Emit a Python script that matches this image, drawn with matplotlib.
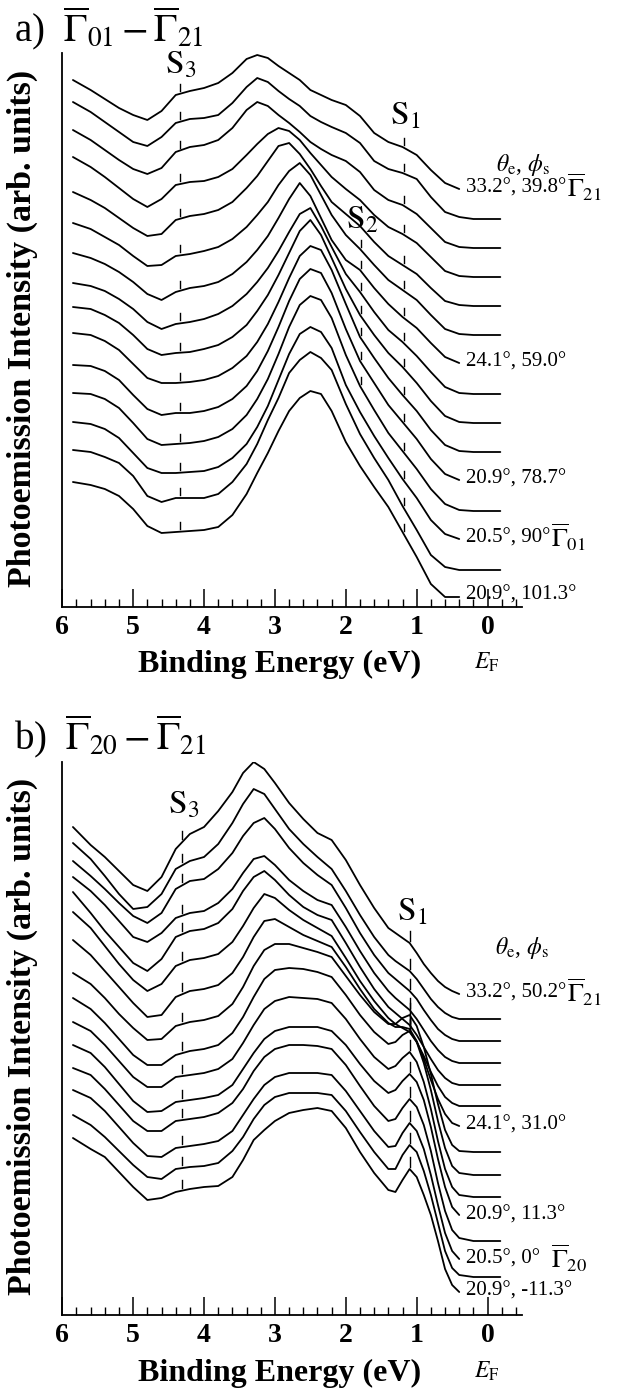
import numpy as np
import matplotlib
matplotlib.use("Agg")
import matplotlib.pyplot as plt

plt.rcParams['font.family'] = ['Liberation Serif', 'DejaVu Serif']
plt.rcParams['mathtext.fontset'] = 'stix'

nan = np.nan

# ---------------- panel a) data (binding energy grid, eV) ----------------
energy_a = [5.85, 5.6, 5.4, 5.2, 5.0, 4.8, 4.6, 4.4, 4.2, 4.0, 3.8, 3.6, 3.4, 3.25,
            3.1, 2.95, 2.8, 2.65, 2.5, 2.35, 2.2, 2.0, 1.8, 1.6, 1.4, 1.2, 1.0,
            0.8, 0.6, 0.4, 0.2, 0.0, -0.18]
offsets_a = [417, 388, 359, 330, 301, 272, 243, 213, 184, 155, 126, 96, 67, 37, 10]

a01 = [110, 100, 91, 82, 75, 70, 79, 95, 99, 102, 107, 117, 131, 135, 132, 124, 117, 110, 100, 95, 90, 85, 74, 57, 48, 43, 35, 20, 7, 1, nan, nan, nan]
a02 = [117, 107, 97, 87, 77, 73, 82, 96, 100, 101, 104, 116, 132, 141, 137, 128, 120, 113, 103, 97, 92, 86, 76, 58, 50, 46, 40, 22, 7, 2, 0, 0, 0]
a03 = [118, 108, 98, 88, 79, 74, 80, 96, 101, 103, 108, 120, 138, 146, 142, 133, 125, 116, 106, 99, 93, 87, 76, 58, 48, 43, 34, 20, 6, 1, 0, 0, 0]
a04 = [120, 110, 100, 89, 78, 70, 78, 92, 95, 96, 100, 108, 122, 133, 143, 149, 146, 137, 124, 112, 100, 88, 77, 62, 50, 43, 34, 20, 6, 1, 0, 0, 0]
a05 = [114, 106, 98, 88, 78, 70, 72, 86, 90, 92, 96, 104, 118, 130, 145, 160, 163, 152, 137, 120, 104, 92, 80, 64, 50, 41, 32, 18, 5, 1, 0, 0, 0]
a06 = [112, 106, 98, 90, 79, 69, 70, 79, 81, 84, 88, 96, 108, 120, 133, 150, 164, 172, 160, 140, 120, 100, 86, 70, 55, 45, 35, 20, 6, 1, 0, 0, 0]
a07 = [111, 106, 100, 92, 82, 70, 64, 72, 76, 78, 82, 90, 102, 114, 128, 146, 165, 181, 168, 146, 124, 104, 94, 76, 60, 47, 36, 21, 7, 1, nan, nan, nan]
a08 = [111, 108, 103, 95, 85, 72, 65, 70, 72, 75, 80, 88, 100, 112, 126, 143, 162, 180, 186, 168, 147, 120, 102, 82, 64, 52, 38, 22, 7, 1, 0, 0, 0]
a09 = [116, 114, 108, 100, 88, 74, 68, 70, 71, 74, 78, 86, 98, 112, 128, 148, 170, 192, 203, 188, 165, 134, 108, 88, 70, 56, 40, 22, 7, 1, 0, 0, 0]
a10 = [119, 117, 111, 102, 88, 74, 69, 69, 70, 72, 76, 84, 96, 110, 128, 150, 174, 196, 206, 202, 182, 148, 115, 94, 74, 57, 41, 22, 7, 1, 0, 0, 0]
a11 = [116, 115, 110, 101, 86, 72, 66, 68, 68, 70, 74, 82, 95, 110, 130, 154, 180, 202, 212, 208, 188, 152, 120, 98, 76, 59, 42, 22, 7, 1, nan, nan, nan]
a12 = [118, 117, 112, 103, 88, 72, 66, 67, 68, 70, 74, 82, 96, 112, 132, 157, 184, 206, 215, 211, 193, 156, 125, 101, 78, 60, 42, 22, 7, 1, 0, 0, 0]
a13 = [118, 116, 111, 102, 87, 72, 67, 67, 68, 69, 73, 82, 96, 113, 134, 160, 186, 206, 213, 208, 192, 155, 128, 104, 82, 61, 42, 20, 6, 1, nan, nan, nan]
a14 = [120, 118, 113, 107, 94, 74, 68, 72, 72, 72, 76, 88, 106, 126, 150, 172, 197, 210, 218, 212, 200, 166, 136, 112, 90, 64, 40, 15, 3, 0, 0, 0, 0]
a15 = [115, 112, 108, 101, 88, 71, 64, 65, 66, 67, 70, 82, 103, 124, 144, 166, 186, 199, 206, 203, 186, 155, 131, 110, 90, 65, 40, 13, 0, 0, nan, nan, nan]
spectra_a = [a01, a02, a03, a04, a05, a06, a07, a08, a09, a10, a11, a12, a13, a14, a15]

labels_a = {0: "33.2°, 39.8°", 6: "24.1°, 59.0°", 10: "20.9°, 78.7°",
            12: "20.5°, 90°", 14: "20.9°, 101.3°"}
gamma_a = {0: r"$\overline{\Gamma}_{21}$", 12: r"$\overline{\Gamma}_{01}$"}

# ---------------- panel b) data ----------------
energy_b = [5.85, 5.6, 5.4, 5.2, 5.0, 4.8, 4.6, 4.4, 4.2, 4.0, 3.8, 3.6, 3.45, 3.3,
            3.15, 3.0, 2.8, 2.6, 2.4, 2.2, 2.0, 1.8, 1.6, 1.4, 1.3, 1.2, 1.1, 1.0,
            0.9, 0.8, 0.7, 0.6, 0.5, 0.4, 0.2, 0.0, -0.18]
offsets_b = [320, 296, 274, 252, 230, 209, 188, 163, 140, 118, 98, 74, 54, 38, 22]

b01 = [168, 150, 138, 124, 110, 104, 118, 146, 161, 168, 184, 203, 222, 233, 226, 212, 192, 176, 162,
       155, 135, 110, 87, 67, 62, 57, 52, 42, 31, 22, 14, 8, 4, 1, nan, nan, nan]
b02 = [176, 160, 143, 125, 110, 112, 125, 150, 158, 162, 175, 196, 215, 230, 225, 210, 190, 175, 162,
       150, 128, 104, 82, 64, 58, 53, 48, 40, 30, 20, 12, 6, 2, 0, 0, 0, 0]
b03 = [180, 165, 152, 138, 125, 118, 128, 152, 160, 162, 172, 188, 205, 218, 223, 212, 193, 178, 166,
       156, 133, 108, 86, 68, 62, 56, 50, 42, 31, 21, 12, 6, 2, 0, 0, 0, 0]
b04 = [186, 172, 158, 142, 126, 121, 130, 145, 150, 152, 160, 174, 190, 204, 207, 198, 183, 172, 163,
       158, 136, 112, 90, 72, 65, 59, 53, 44, 33, 22, 13, 6, 2, 0, 0, 0, 0]
b05 = [193, 172, 154, 138, 122, 114, 126, 148, 154, 156, 162, 176, 194, 208, 214, 205, 190, 178, 170,
       165, 142, 118, 96, 78, 72, 66, 60, 50, 38, 26, 15, 7, 2, 0, 0, 0, 0]
b06 = [194, 178, 160, 142, 126, 115, 122, 140, 146, 148, 152, 164, 180, 198, 212, 208, 196, 186, 178,
       170, 148, 125, 105, 88, 82, 78, 74, 64, 50, 34, 20, 9, 3, 0, 0, 0, 0]
b07 = [187, 172, 156, 140, 124, 110, 112, 130, 136, 138, 142, 154, 170, 190, 206, 208, 200, 192, 186,
       180, 160, 138, 118, 104, 100, 100, 98, 86, 68, 47, 28, 13, 4, 1, nan, nan, nan]
b08 = [179, 168, 154, 138, 124, 112, 113, 126, 130, 132, 136, 148, 165, 186, 202, 208, 208, 204, 200,
       195, 176, 157, 140, 128, 128, 134, 137, 126, 105, 78, 48, 22, 7, 1, 0, 0, 0]
b09 = [177, 166, 152, 136, 120, 110, 110, 120, 124, 126, 130, 142, 158, 178, 196, 205, 207, 206, 203,
       198, 180, 160, 143, 131, 133, 140, 144, 133, 112, 85, 54, 27, 9, 2, 0, 0, 0]
b10 = [175, 166, 152, 136, 120, 110, 110, 120, 122, 124, 128, 138, 154, 172, 188, 196, 200, 199, 198,
       194, 178, 158, 140, 128, 131, 139, 145, 135, 115, 88, 56, 28, 10, 2, 0, 0, 0]
b11 = [172, 164, 150, 133, 116, 105, 106, 115, 117, 119, 122, 132, 148, 164, 178, 186, 190, 190, 190,
       186, 172, 153, 136, 124, 127, 136, 143, 135, 117, 90, 58, 30, 10, 2, nan, nan, nan]
b12 = [173, 166, 152, 136, 120, 110, 110, 120, 122, 124, 128, 138, 152, 170, 184, 192, 196, 196, 195,
       192, 176, 155, 135, 120, 122, 133, 142, 134, 116, 90, 58, 30, 11, 3, 0, 0, 0]
b13 = [171, 163, 150, 134, 118, 105, 104, 113, 115, 117, 120, 130, 146, 162, 176, 184, 188, 188, 188,
       186, 170, 150, 130, 114, 115, 128, 138, 130, 112, 86, 56, 28, 10, 2, nan, nan, nan]
b14 = [162, 152, 140, 126, 112, 100, 98, 108, 110, 111, 114, 126, 140, 158, 172, 180, 184, 184, 184,
       182, 166, 145, 125, 108, 108, 122, 132, 125, 106, 82, 54, 26, 9, 2, 0, 0, 0]
b15 = [155, 144, 136, 121, 106, 93, 95, 101, 104, 106, 107, 116, 133, 153, 163, 172, 180, 183, 185,
       182, 165, 141, 120, 103, 101, 113, 124, 116, 98, 78, 52, 24, 8, 1, nan, nan, nan]
spectra_b = [b01, b02, b03, b04, b05, b06, b07, b08, b09, b10, b11, b12, b13, b14, b15]

labels_b = {0: "33.2°, 50.2°", 6: "24.1°, 31.0°", 10: "20.9°, 11.3°",
            12: "20.5°, 0°  ", 14: "20.9°, -11.3°"}
gamma_b = {0: r"$\overline{\Gamma}_{21}$", 12: r"$\overline{\Gamma}_{20}$"}

xticks = [6, 5, 4, 3, 2, 1, 0]

# ---------------- figure ----------------
W, H = 623, 1393
fig = plt.figure(figsize=(W / 100, H / 100), dpi=100)


def ftext(xp, yp, s, **kw):
    return fig.text(xp / W, 1 - yp / H, s, **kw)


def make_axes(top_px, bottom_px):
    left = 62.3 / W
    right = 521.6 / W
    ax = fig.add_axes([left, 1 - bottom_px / H, right - left, (bottom_px - top_px) / H])
    ax.set_xlim(6, -0.48)
    ax.set_ylim(0, bottom_px - top_px)
    for s in ('top', 'right'):
        ax.spines[s].set_visible(False)
    ax.spines['left'].set_linewidth(1.3)
    ax.spines['bottom'].set_linewidth(1.3)
    ax.set_yticks([])
    ax.set_xticks(xticks)
    ax.set_xticks([v for v in np.arange(-0.4, 6.0, 0.2) if abs(v - round(v)) > 1e-6], minor=True)
    ax.set_xticklabels([str(t) for t in xticks], fontsize=20, fontweight='bold')
    ax.tick_params(axis='x', which='major', direction='in', length=13, width=1.1, pad=6)
    ax.tick_params(axis='x', which='minor', direction='in', length=6, width=1.0)
    ax.patch.set_alpha(0)
    return ax


def draw_panel(ax, energy, spectra, offsets, labels, gammas, marks):
    e = np.array(energy, float)
    curves = []
    for rel, off in zip(spectra, offsets):
        y = np.array(rel, float) + off
        ax.plot(e, y, color='black', lw=1.3, solid_joinstyle='round', solid_capstyle='round')
        curves.append(y)
    # dashed feature marks just above each spectrum
    for Es, idxs, dlen in marks:
        for i in idxs:
            y = curves[i]
            ok = ~np.isnan(y)
            hs = np.interp(Es, e[ok][::-1], y[ok][::-1])
            ax.plot([Es, Es], [hs + 3, hs + 3 + dlen], color='black', lw=1.0)
    fig.canvas.draw()
    renderer = fig.canvas.get_renderer()
    for i, txt in labels.items():
        t = ax.text(0.31, offsets[i] + 2, txt, fontsize=15, ha='left', va='center')
        if i in gammas:
            bb = t.get_window_extent(renderer=renderer)
            ydisp = ax.transData.transform((0, offsets[i] + 3))[1]
            fig.text((bb.x1 + 1) / W, ydisp / H, gammas[i], fontsize=19, ha='left', va='center')


# panel a
axa = make_axes(53, 607)
draw_panel(axa, energy_a, spectra_a, offsets_a, labels_a, gamma_a,
           [(4.34, range(15), 7), (1.18, range(15), 7), (1.79, range(5, 12), 7)])
ftext(14, 28, r"a)  $\overline{\Gamma}_{01}-\overline{\Gamma}_{21}$", fontsize=28, ha='left', va='center')
ftext(181, 65, r"$\mathrm{S}_3$", fontsize=24, ha='center', va='center')
ftext(405, 116, r"$\mathrm{S}_1$", fontsize=24, ha='center', va='center')
ftext(362, 220, r"$\mathrm{S}_2$", fontsize=24, ha='center', va='center')
ftext(523, 165, r"$\theta_{\mathrm{e}}$, $\phi_{\mathrm{s}}$", fontsize=17, ha='center', va='center')
ftext(22, 328, "Photoemission Intensity (arb. units)", rotation=90, fontsize=24.5,
      fontweight='bold', ha='center', va='center')
ftext(280, 664, "Binding Energy (eV)", fontsize=23, fontweight='bold', ha='center', va='center')
ftext(487, 662, r"$E_{\mathrm{F}}$", fontsize=17, ha='center', va='center')

# panel b
axb = make_axes(762, 1315)
draw_panel(axb, energy_b, spectra_b, offsets_b, labels_b, gamma_b,
           [(4.31, range(15), 8), (1.09, range(15), 10)])
ftext(14, 736, r"b)  $\overline{\Gamma}_{20}-\overline{\Gamma}_{21}$", fontsize=28, ha='left', va='center')
ftext(184, 805, r"$\mathrm{S}_3$", fontsize=24, ha='center', va='center')
ftext(412, 912, r"$\mathrm{S}_1$", fontsize=24, ha='center', va='center')
ftext(522, 948, r"$\theta_{\mathrm{e}}$, $\phi_{\mathrm{s}}$", fontsize=17, ha='center', va='center')
ftext(22, 1036, "Photoemission Intensity (arb. units)", rotation=90, fontsize=24.5,
      fontweight='bold', ha='center', va='center')
ftext(280, 1373, "Binding Energy (eV)", fontsize=23, fontweight='bold', ha='center', va='center')
ftext(487, 1371, r"$E_{\mathrm{F}}$", fontsize=17, ha='center', va='center')

fig.savefig("out.png", dpi=100)
